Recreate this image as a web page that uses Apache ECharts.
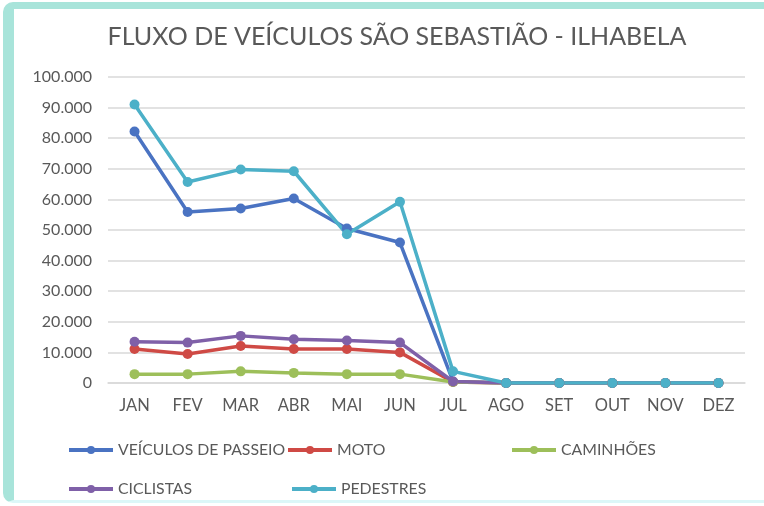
<!DOCTYPE html>
<html>
<head>
<meta charset="utf-8">
<script src="https://cdn.jsdelivr.net/npm/echarts@6/dist/echarts.min.js"></script>
<style>
  html, body { margin: 0; padding: 0; background: #fff; }
  #frame {
    position: absolute; left: 3px; top: 2px; width: 780px; height: 491px;
    border-left: 11px solid #a8e4da; border-top: 7px solid #a8e4da;
    border-bottom: 3px solid #dcf7f8; border-radius: 10px 0 0 10px;
  }
  #chart { position: absolute; left: 0; top: 0; width: 764px; height: 506px; }
</style>
</head>
<body>
<div id="frame"></div>
<div id="chart"></div>
<script>
const months = ['JAN', 'FEV', 'MAR', 'ABR', 'MAI', 'JUN', 'JUL', 'AGO', 'SET', 'OUT', 'NOV', 'DEZ']
const veiculos = [82200, 55900, 57000, 60300, 50500, 45900, 500, 0, 0, 0, 0, 0]
const moto = [11100, 9500, 12100, 11100, 11100, 10000, 300, 0, 0, 0, 0, 0]
const caminhoes = [2900, 2900, 3800, 3300, 2900, 2900, 300, 0, 0, 0, 0, 0]
const ciclistas = [13500, 13200, 15400, 14300, 13900, 13200, 500, 0, 0, 0, 0, 0]
const pedestres = [91000, 65700, 69800, 69200, 48600, 59200, 3800, 0, 0, 0, 0, 0]

// legend boxes sit where Excel put them, not on a grid
const seriesDefs = [
  { name: 'VEÍCULOS DE PASSEIO', data: veiculos, color: '#4a73c2', left: 62, top: 437 },
  { name: 'MOTO', data: moto, color: '#cf4a45', left: 281, top: 437 },
  { name: 'CAMINHÕES', data: caminhoes, color: '#9dbf5a', left: 505, top: 437 },
  { name: 'CICLISTAS', data: ciclistas, color: '#7f60a8', left: 62, top: 476 },
  { name: 'PEDESTRES', data: pedestres, color: '#4cb0c8', left: 285, top: 476 },
]

const font = 'Lato, "Open Sans", sans-serif'
const textGray = '#595959'

const fmt = v => String(v).replace(/\B(?=(\d{3})+(?!\d))/g, '.')

const chart = echarts.init(document.getElementById('chart'))
chart.setOption({
  backgroundColor: 'transparent',
  animation: false,
  title: {
    text: 'FLUXO DE VEÍCULOS SÃO SEBASTIÃO - ILHABELA',
    left: 392,
    textAlign: 'center',
    top: 19,
    textStyle: { fontFamily: font, fontSize: 25, fontWeight: 'normal', color: textGray },
  },
  legend: seriesDefs.map(s => ({
    data: [s.name],
    left: s.left,
    top: s.top,
    itemWidth: 44,
    itemHeight: 10,
    lineStyle: { width: 4 },
    textStyle: { fontFamily: font, fontSize: 15.8, color: textGray },
  })),
  grid: { left: 108, right: 19, top: 77, bottom: 123 },
  xAxis: {
    type: 'category',
    data: months,
    axisLine: { lineStyle: { color: '#d9d9d9', width: 1.5 } },
    axisTick: { show: false },
    axisLabel: { fontFamily: font, fontSize: 16.5, color: textGray, margin: 14 },
  },
  yAxis: {
    type: 'value',
    min: 0,
    max: 100000,
    interval: 10000,
    axisLine: { show: false },
    axisTick: { show: false },
    splitLine: { lineStyle: { color: '#d9d9d9', width: 1.5 } },
    axisLabel: { fontFamily: font, fontSize: 16, color: textGray, margin: 16, formatter: fmt },
  },
  series: seriesDefs.map(s => ({
    name: s.name,
    type: 'line',
    data: s.data,
    color: s.color,
    symbol: 'circle',
    symbolSize: 10,
    lineStyle: { width: 3.5, color: s.color },
    itemStyle: { color: s.color },
  })),
})
</script>
</body>
</html>
